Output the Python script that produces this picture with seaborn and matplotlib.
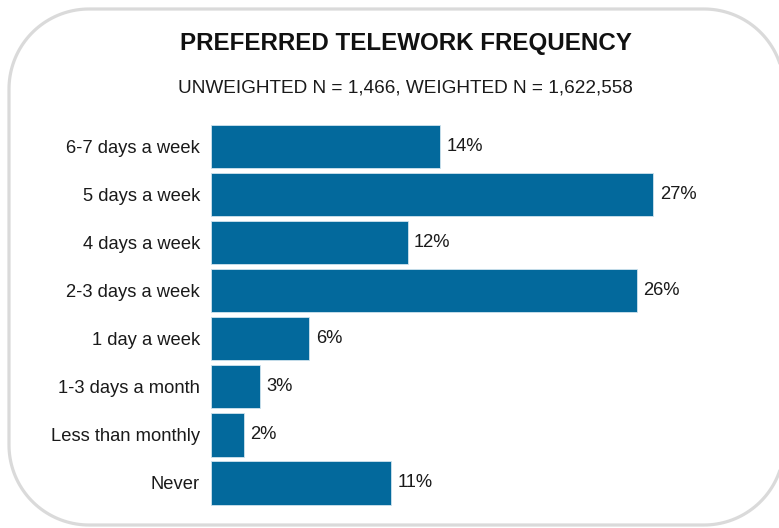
import matplotlib
matplotlib.use("Agg")
import matplotlib.pyplot as plt
from matplotlib.patches import Polygon
import numpy as np
import seaborn as sns
import pandas as pd

categories = ["6-7 days a week", "5 days a week", "4 days a week", "2-3 days a week",
              "1 day a week", "1-3 days a month", "Less than monthly", "Never"]
percent = [14, 27, 12, 26, 6, 3, 2, 11]
title = "PREFERRED TELEWORK FREQUENCY"
subtitle = "UNWEIGHTED N = 1,466, WEIGHTED N = 1,622,558"

sns.set_theme(style="white")
plt.rcParams["font.family"] = ["Liberation Sans", "DejaVu Sans"]

df = pd.DataFrame({"category": categories, "percent": percent})

fig = plt.figure(figsize=(7.79, 5.28), dpi=100)


def rounded_outline(x0, y0, x1, y1, r, n=40):
    """Closed outline of a rectangle with circular corners (inch units)."""
    corners = [((x1 - r, y0 + r), -90, 0), ((x1 - r, y1 - r), 0, 90),
               ((x0 + r, y1 - r), 90, 180), ((x0 + r, y0 + r), 180, 270)]
    pts = []
    for (cx, cy), a0, a1 in corners:
        t = np.radians(np.linspace(a0, a1, n))
        pts.append(np.column_stack([cx + r * np.cos(t), cy + r * np.sin(t)]))
    return np.vstack(pts)


# frame around the whole graphic; its right edge runs just past the canvas
frame = Polygon(rounded_outline(0.09, 0.03, 7.84, 5.19, 0.8), closed=True,
                transform=fig.dpi_scale_trans, facecolor="none",
                edgecolor="#dadada", linewidth=2.3, zorder=-1)
fig.patches.append(frame)

ax = fig.add_axes([0.2709, 0.0398, 0.679, 0.728])
ax.set_facecolor("none")
sns.barplot(data=df, x="percent", y="category", orient="h", color="#03699c",
            saturation=1, width=0.9, edgecolor="#cfe3ee", linewidth=0.6, ax=ax)

ax.set_xlim(0, 32.3)
ax.set_ylim(7.5, -0.5)
for s in ax.spines.values():
    s.set_visible(False)
ax.set_xticks([])
ax.set_xlabel("")
ax.set_ylabel("")
ax.tick_params(axis="y", length=0, pad=8, labelsize=13.2, labelcolor="#1a1a1a")

for i, v in enumerate(percent):
    ax.text(v + 0.4, i, f"{v}%", va="center", ha="left", fontsize=13.2, color="#1a1a1a")

fig.text(0.521, 0.918, title, ha="center", va="center", fontsize=17.4,
         fontweight="bold", color="#111111")
fig.text(0.521, 0.834, subtitle, ha="center", va="center", fontsize=13.7,
         color="#1a1a1a")

fig.savefig("out.png", dpi=100)
